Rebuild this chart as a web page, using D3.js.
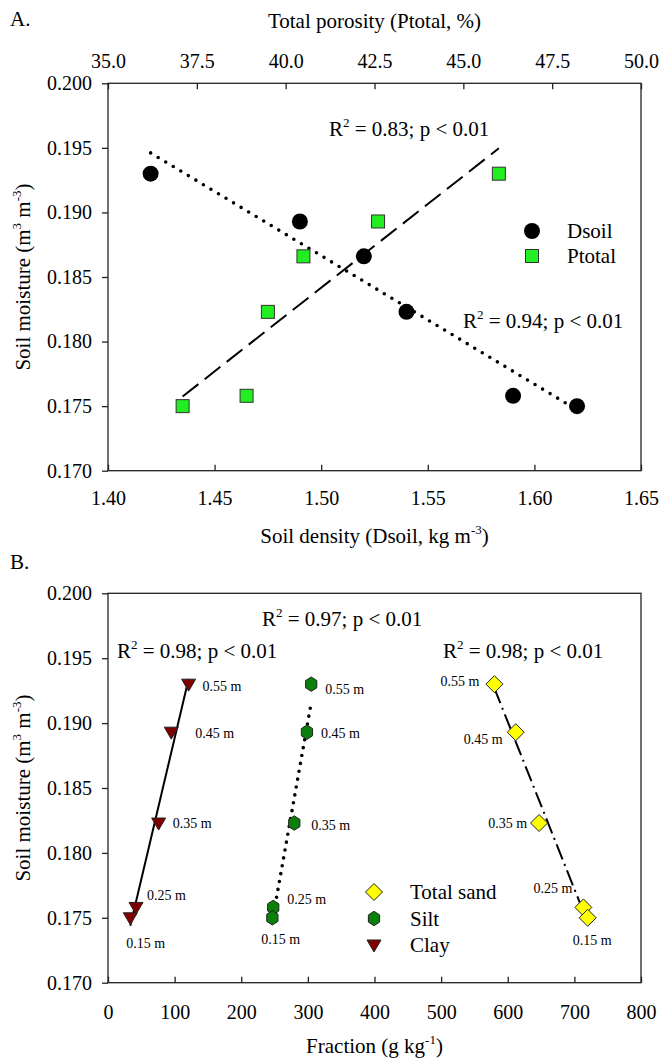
<!DOCTYPE html>
<html><head><meta charset="utf-8">
<script src="https://cdn.jsdelivr.net/npm/d3@7"></script>
<style>
body{margin:0;background:#fff}
text{font-family:"Liberation Serif","Times New Roman",serif;fill:#000}
</style>
</head><body>
<svg id="c" width="665" height="1061"></svg>
<script>
// ---------- DATA ----------
const densityTicks = [1.40, 1.45, 1.50, 1.55, 1.60, 1.65];
const porosityTicks = [35.0, 37.5, 40.0, 42.5, 45.0, 47.5, 50.0];
const moistureTicks = [0.170, 0.175, 0.180, 0.185, 0.190, 0.195, 0.200];
const fractionTicks = [0, 100, 200, 300, 400, 500, 600, 700, 800];

const dsoilX = [1.42, 1.49, 1.52, 1.54, 1.59, 1.62];
const dsoilY = [0.1930, 0.1893, 0.1866, 0.1823, 0.1758, 0.1750];
const ptotalX = [37.1, 38.9, 39.5, 40.5, 42.6, 46.0];
const ptotalY = [0.1750, 0.1758, 0.1823, 0.1866, 0.1893, 0.1930];
const seriesA = ["Dsoil", "Ptotal"];
const statsA = ["0.83", "0.94"];

const depths = ["0.55 m", "0.45 m", "0.35 m", "0.25 m", "0.15 m"];
const depthMoisture = [0.1930, 0.1893, 0.1823, 0.1758, 0.1750];
const clay = [121, 95, 76, 42, 33.5];
const silt = [305, 298.6, 279.6, 248, 246.7];
const sand = [580, 612, 647, 713.5, 720];
const seriesB = ["Total sand", "Silt", "Clay"];
const statsB = ["0.98", "0.97", "0.98"];

// ---------- LAYOUT ----------
const FONT = '"Liberation Serif","Times New Roman",serif';
const svg = d3.select("#c");
const A = {l: 108, r: 641, t: 83.3, b: 470.7};
const B = {l: 108, r: 641, t: 593.3, b: 982.7};

function linreg(xs, ys) {
  const mx = d3.mean(xs), my = d3.mean(ys);
  let sxy = 0, sxx = 0;
  xs.forEach((x, i) => { sxy += (x - mx) * (ys[i] - my); sxx += (x - mx) * (x - mx); });
  const m = sxy / sxx;
  return x => my + m * (x - mx);
}

function styleAxis(g, size) {
  g.attr("font-family", FONT).attr("font-size", size);
  g.select(".domain").remove();
  g.selectAll("line").attr("stroke", "#222").attr("stroke-width", 1.3);
  g.selectAll("text").attr("fill", "#000");
}

function frame(P) {
  svg.append("rect").attr("x", P.l).attr("y", P.t)
    .attr("width", P.r - P.l).attr("height", P.b - P.t)
    .attr("fill", "none").attr("stroke", "#222").attr("stroke-width", 1.3);
}

function supText(sel, parts) {
  parts.forEach(([t, sup], i) => {
    const prevSup = i > 0 && parts[i - 1][1];
    const ts = sel.append("tspan").text(t);
    if (sup) ts.attr("font-size", "0.62em").attr("dy", "-0.7em");
    else if (prevSup) ts.attr("dy", "0.434em");
  });
}

function rsq(x, y, val, anchor) {
  const t = svg.append("text").attr("x", x).attr("y", y).attr("font-size", 21)
    .attr("text-anchor", anchor || "start");
  supText(t, [["R", false], ["2", true], [" = " + val + "; p < 0.01", false]]);
}

// ================= PANEL A =================
const xA = d3.scaleLinear().domain([1.40, 1.65]).range([A.l, A.r]);
const xAtop = d3.scaleLinear().domain([35, 50]).range([A.l, A.r]);
const yA = d3.scaleLinear().domain([0.170, 0.200]).range([A.b, A.t]);

frame(A);
styleAxis(svg.append("g").attr("transform", `translate(${A.l},0)`)
  .call(d3.axisLeft(yA).tickValues(moistureTicks).tickFormat(d3.format(".3f"))
    .tickSize(6).tickSizeOuter(0).tickPadding(10)), 20);
styleAxis(svg.append("g").attr("transform", `translate(0,${A.b})`)
  .call(d3.axisBottom(xA).tickValues(densityTicks).tickFormat(d3.format(".2f"))
    .tickSize(-6).tickSizeOuter(0).tickPadding(20)), 20);
styleAxis(svg.append("g").attr("transform", `translate(0,${A.t})`)
  .call(d3.axisTop(xAtop).tickValues(porosityTicks).tickFormat(d3.format(".1f"))
    .tickSize(-6).tickSizeOuter(0).tickPadding(15)), 20);

// fit lines
const fD = linreg(dsoilX, dsoilY);
const exD = d3.extent(dsoilX);
svg.append("line")
  .attr("x1", xA(exD[0])).attr("y1", yA(fD(exD[0])))
  .attr("x2", xA(exD[1])).attr("y2", yA(fD(exD[1])))
  .attr("stroke", "#000").attr("stroke-width", 3.6)
  .attr("stroke-linecap", "round").attr("stroke-dasharray", "0 8.8");
const fP = linreg(ptotalX, ptotalY);
const exP = d3.extent(ptotalX);
svg.append("line")
  .attr("x1", xAtop(exP[0])).attr("y1", yA(fP(exP[0])))
  .attr("x2", xAtop(exP[1])).attr("y2", yA(fP(exP[1])))
  .attr("stroke", "#000").attr("stroke-width", 2)
  .attr("stroke-dasharray", "20 8");

// markers
svg.append("g").selectAll("circle").data(dsoilX).join("circle")
  .attr("cx", d => xA(d)).attr("cy", (d, i) => yA(dsoilY[i])).attr("r", 8)
  .attr("fill", "#000");
const sq = 13;
svg.append("g").selectAll("rect").data(ptotalX).join("rect")
  .attr("x", d => xAtop(d) - sq / 2).attr("y", (d, i) => yA(ptotalY[i]) - sq / 2)
  .attr("width", sq).attr("height", sq)
  .attr("fill", "#22ee22").attr("stroke", "#333").attr("stroke-width", 1);

// legend A
svg.append("circle").attr("cx", 532).attr("cy", 231).attr("r", 8).attr("fill", "#000");
svg.append("rect").attr("x", 532 - sq / 2).attr("y", 256 - sq / 2).attr("width", sq).attr("height", sq)
  .attr("fill", "#22ee22").attr("stroke", "#333").attr("stroke-width", 1);
svg.append("text").attr("x", 567).attr("y", 238).attr("font-size", 21).text(seriesA[0]);
svg.append("text").attr("x", 567).attr("y", 263).attr("font-size", 21).text(seriesA[1]);

rsq(329, 136, statsA[0]);
rsq(463, 328, statsA[1]);

// titles A
svg.append("text").attr("x", 10).attr("y", 26).attr("font-size", 21).text("A.");
svg.append("text").attr("x", (A.l + A.r) / 2).attr("y", 28).attr("font-size", 21)
  .attr("text-anchor", "middle").text("Total porosity (Ptotal, %)");
supText(svg.append("text").attr("x", (A.l + A.r) / 2).attr("y", 543).attr("font-size", 21)
  .attr("text-anchor", "middle"),
  [["Soil density (Dsoil, kg m", false], ["-3", true], [")", false]]);
function ylab(cy) {
  supText(svg.append("text").attr("transform", `translate(30,${cy}) rotate(-90)`)
    .attr("font-size", 21).attr("text-anchor", "middle"),
    [["Soil moisture (m", false], ["3", true], [" m", false], ["-3", true], [")", false]]);
}
ylab((A.t + A.b) / 2);

// ================= PANEL B =================
const xB = d3.scaleLinear().domain([0, 800]).range([B.l, B.r]);
const yB = d3.scaleLinear().domain([0.170, 0.200]).range([B.b, B.t]);

frame(B);
styleAxis(svg.append("g").attr("transform", `translate(${B.l},0)`)
  .call(d3.axisLeft(yB).tickValues(moistureTicks).tickFormat(d3.format(".3f"))
    .tickSize(6).tickSizeOuter(0).tickPadding(10)), 20);
styleAxis(svg.append("g").attr("transform", `translate(0,${B.b})`)
  .call(d3.axisBottom(xB).tickValues(fractionTicks).tickFormat(d3.format("d"))
    .tickSize(-6).tickSizeOuter(0).tickPadding(22)), 20);

const lineStyles = {
  sand: {dash: "16 5 2 5", w: 2, cap: "butt"},
  silt: {dash: "0 8", w: 3.6, cap: "round"},
  clay: {dash: null, w: 2, cap: "butt"}
};
function fitB(vals, st) {
  const f = linreg(vals, depthMoisture);
  const ex = d3.extent(vals);
  const ln = svg.append("line")
    .attr("x1", xB(ex[0])).attr("y1", yB(f(ex[0])))
    .attr("x2", xB(ex[1])).attr("y2", yB(f(ex[1])))
    .attr("stroke", "#000").attr("stroke-width", st.w).attr("stroke-linecap", st.cap);
  if (st.dash) ln.attr("stroke-dasharray", st.dash);
}
fitB(clay, lineStyles.clay);
fitB(silt, lineStyles.silt);
fitB(sand, lineStyles.sand);

// symbol paths
const triPath = "M-7,-5L7,-5L0,7Z";
const hexPath = (() => {
  const r = 7.2, pts = [];
  for (let k = 0; k < 6; k++) {
    const a = Math.PI / 2 + k * Math.PI / 3;
    pts.push([r * 0.9 * Math.cos(a), r * Math.sin(a)]);
  }
  return "M" + pts.map(p => p.join(",")).join("L") + "Z";
})();
const diaPath = "M0,-8.5L8.5,0L0,8.5L-8.5,0Z";

const markB = {
  sand: {path: diaPath, fill: "#ffff00"},
  silt: {path: hexPath, fill: "#0a7f0a"},
  clay: {path: triPath, fill: "#800000"}
};
function pts(vals, m) {
  svg.append("g").selectAll("path").data(vals).join("path")
    .attr("transform", (d, i) => `translate(${xB(d)},${yB(depthMoisture[i])})`)
    .attr("d", m.path).attr("fill", m.fill).attr("stroke", "#222").attr("stroke-width", 1);
}
pts(clay, markB.clay);
pts(silt, markB.silt);
pts(sand, markB.sand);

// depth labels: offsets relative to marker [dx, dy, anchor]
const labOff = {
  clay: [[14, 7, "start"], [24, 6, "start"], [14, 5, "start"], [11, -7, "start"], [-4, 30, "start"]],
  silt: [[14, 10, "start"], [14, 6, "start"], [17, 6.5, "start"], [14, -3, "start"], [-11, 26, "start"]],
  sand: [[-15, 2, "end"], [-13, 12, "end"], [-12, 4.5, "end"], [-11, -14, "end"], [-15, 27, "start"]]
};
function labs(vals, offs) {
  svg.append("g").selectAll("text").data(vals).join("text")
    .attr("x", (d, i) => xB(d) + offs[i][0])
    .attr("y", (d, i) => yB(depthMoisture[i]) + offs[i][1])
    .attr("text-anchor", (d, i) => offs[i][2])
    .attr("font-size", 14).text((d, i) => depths[i]);
}
labs(clay, labOff.clay);
labs(silt, labOff.silt);
labs(sand, labOff.sand);

// legend B
const legB = [markB.sand, markB.silt, markB.clay];
legB.forEach((m, i) => {
  const cy = 892 + i * 26.5;
  svg.append("path").attr("transform", `translate(374,${cy})`).attr("d", m.path)
    .attr("fill", m.fill).attr("stroke", "#222").attr("stroke-width", 1);
  svg.append("text").attr("x", 410).attr("y", cy + 7).attr("font-size", 21).text(seriesB[i]);
});

rsq(117, 658, statsB[0]);
rsq(262, 626, statsB[1]);
rsq(443, 658, statsB[2]);

svg.append("text").attr("x", 10).attr("y", 569).attr("font-size", 21).text("B.");
supText(svg.append("text").attr("x", (B.l + B.r) / 2).attr("y", 1053).attr("font-size", 21)
  .attr("text-anchor", "middle"),
  [["Fraction (g kg", false], ["-1", true], [")", false]]);
ylab((B.t + B.b) / 2);
</script>
</body></html>
